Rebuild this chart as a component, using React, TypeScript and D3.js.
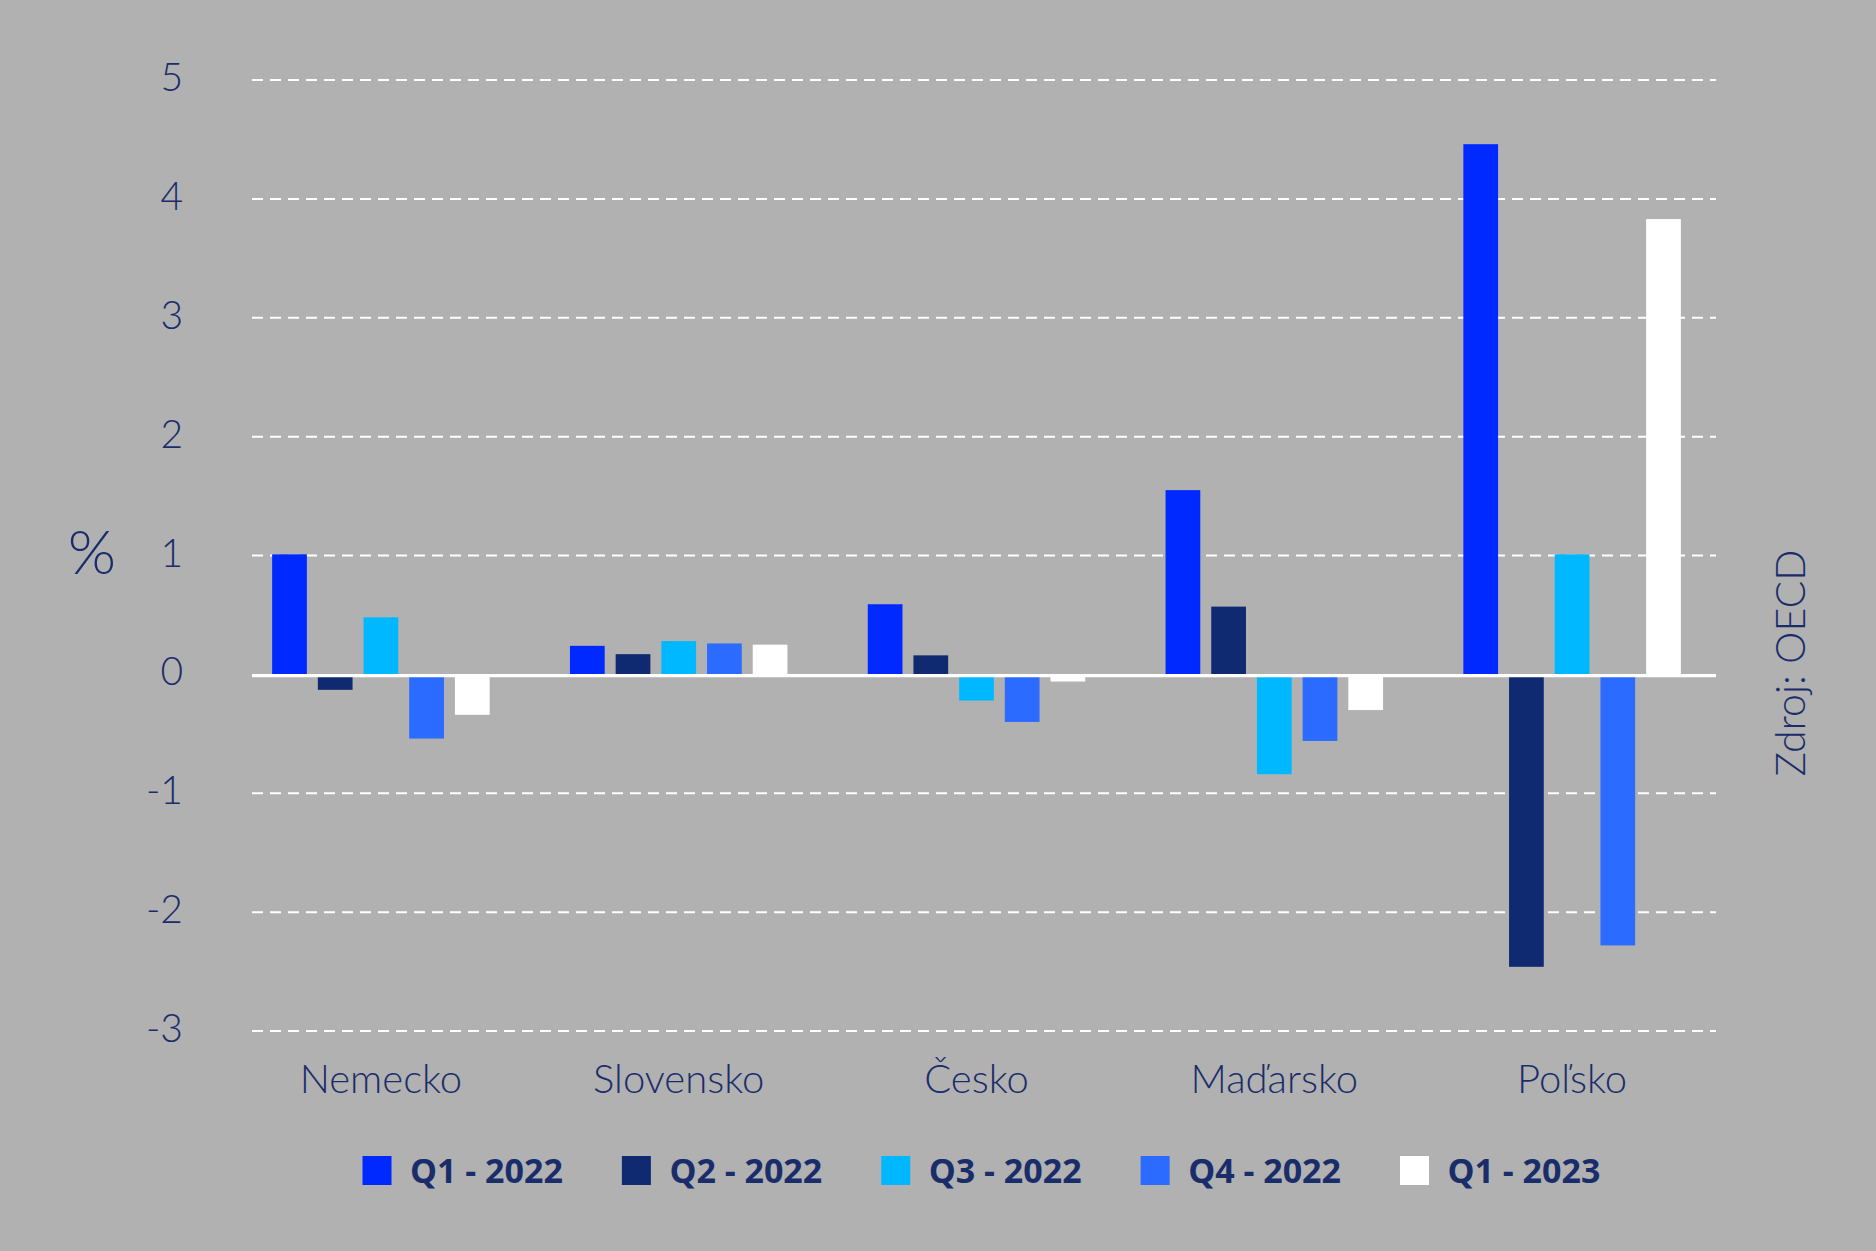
import React from 'react';
import * as d3 from 'd3';

// quarterly GDP change, % (OECD)
const countries = ['Nemecko', 'Slovensko', 'Česko', 'Maďarsko', 'Poľsko'];
const quarters = ['Q1 - 2022', 'Q2 - 2022', 'Q3 - 2022', 'Q4 - 2022', 'Q1 - 2023'];
const q1_2022 = [1.01, 0.24, 0.59, 1.55, 4.46];
const q2_2022 = [-0.13, 0.17, 0.16, 0.57, -2.46];
const q3_2022 = [0.48, 0.28, -0.22, -0.84, 1.01];
const q4_2022 = [-0.54, 0.26, -0.4, -0.56, -2.28];
const q1_2023 = [-0.34, 0.25, -0.06, -0.3, 3.83];
const yTicks = [-3, -2, -1, 0, 1, 2, 3, 4, 5];

const series = [q1_2022, q2_2022, q3_2022, q4_2022, q1_2023];
const colors = ['#0029ff', '#0f2a70', '#00b8ff', '#2b6bff', '#ffffff'];

const width = 1876;
const height = 1251;
const textColor = '#1a2d6b';
const lightFont = 'Lato, "Open Sans", sans-serif';

const App = () => {
  const plotLeft = 252;
  const plotRight = 1716;

  const y = d3.scaleLinear().domain([-3, 5]).range([1031, 80]);

  const x0 = d3.scaleBand().domain(countries).range([232, 1721]).padding(0);
  const groupWidth = 217.5;
  const x1 = d3.scaleBand().domain(quarters).range([0, groupWidth]).paddingInner(0.24);
  const groupOffset = (x0.bandwidth() - groupWidth) / 2;

  const legendX = d3.scalePoint().domain(quarters).range([362.5, 1400]);

  return (
    <div style={{ position: 'absolute', left: 0, top: 0 }}>
      <svg width={width} height={height} style={{ display: 'block' }}>
        <rect x={0} y={0} width={width} height={height} fill="#b1b1b1" />

        {/* grid */}
        {yTicks.filter(t => t !== 0).map(t => (
          <line
            key={t}
            x1={plotLeft}
            x2={plotRight}
            y1={y(t)}
            y2={y(t)}
            stroke="#ffffff"
            strokeWidth={2}
            strokeDasharray="11 7"
          />
        ))}

        {/* y tick labels */}
        {yTicks.map(t => (
          <text
            key={t}
            x={183}
            y={y(t) - 4}
            textAnchor="end"
            dominantBaseline="central"
            fontFamily={lightFont}
            fontWeight={300}
            fontSize={39}
            fill={textColor}
          >
            {t}
          </text>
        ))}

        <text
          x={92}
          y={574}
          textAnchor="middle"
          fontFamily={lightFont}
          fontWeight={300}
          fontSize={62}
          fill={textColor}
        >
          %
        </text>

        {/* bars */}
        {countries.map((c, ci) => (
          <g key={c} transform={`translate(${x0(c)! + groupOffset},0)`}>
            {quarters.map((q, qi) => {
              const v = series[qi][ci];
              return (
                <rect
                  key={q}
                  x={x1(q)}
                  y={Math.min(y(v), y(0))}
                  width={x1.bandwidth()}
                  height={Math.abs(y(v) - y(0))}
                  fill={colors[qi]}
                />
              );
            })}
          </g>
        ))}

        {/* zero line */}
        <line
          x1={plotLeft}
          x2={plotRight}
          y1={y(0) + 1.2}
          y2={y(0) + 1.2}
          stroke="#ffffff"
          strokeWidth={3.4}
        />

        {/* category labels */}
        {countries.map(c => (
          <text
            key={c}
            x={x0(c)! + x0.bandwidth() / 2}
            y={1093}
            textAnchor="middle"
            fontFamily={lightFont}
            fontWeight={300}
            fontSize={40}
            fill={textColor}
          >
            {c}
          </text>
        ))}

        {/* source */}
        <text
          transform="translate(1789,663) rotate(-90)"
          textAnchor="middle"
          dominantBaseline="central"
          fontFamily={lightFont}
          fontWeight={300}
          fontSize={41}
          fill={textColor}
        >
          Zdroj: OECD
        </text>

        {/* legend */}
        {quarters.map((q, i) => (
          <g key={q} transform={`translate(${legendX(q)},0)`}>
            <rect x={0} y={1156} width={29} height={29} fill={colors[i]} />
            <text
              x={47.5}
              y={1183}
              fontFamily='"Open Sans", sans-serif'
              fontWeight={700}
              fontSize={34}
              fill={textColor}
            >
              {q}
            </text>
          </g>
        ))}
      </svg>
    </div>
  );
};

export default App;
